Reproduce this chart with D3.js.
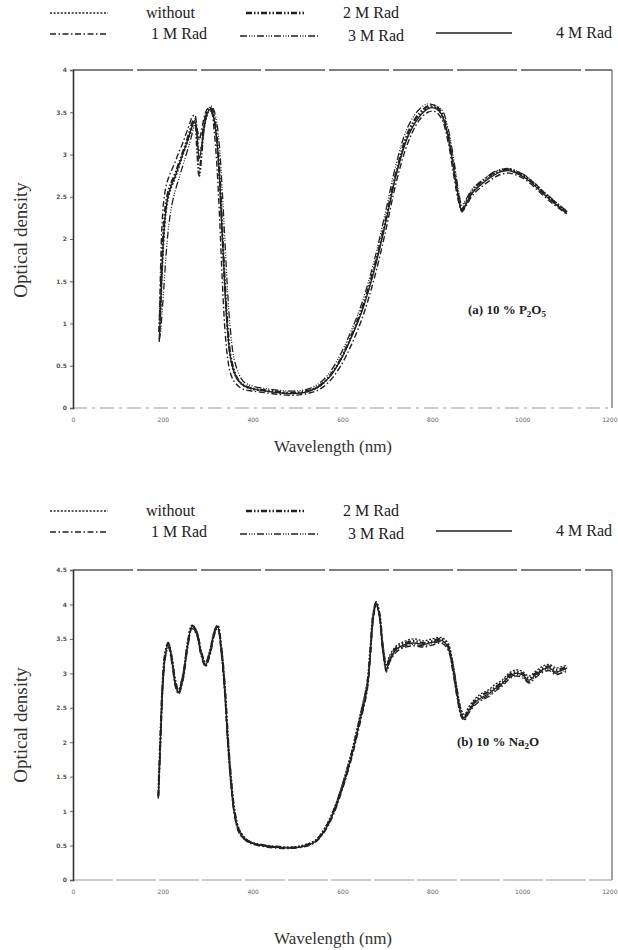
<!DOCTYPE html>
<html><head><meta charset="utf-8">
<script src="https://cdn.jsdelivr.net/npm/d3@7"></script>
<style>html,body{margin:0;padding:0;background:#fff;}svg{display:block;}</style>
</head><body>
<svg id="chart" width="618" height="950"></svg>
<script>
// ---------- data ----------
const seriesNames = ["without", "1 M Rad", "2 M Rad", "3 M Rad", "4 M Rad"];

const xTicks = [0, 200, 400, 600, 800, 1000, 1200];
const yTicksA = [0, 0.5, 1, 1.5, 2, 2.5, 3, 3.5, 4];
const yTicksB = [0, 0.5, 1, 1.5, 2, 2.5, 3, 3.5, 4, 4.5];

// Panel (a) 10 % P2O5
const wavelengthA = [192,195,198,202,207,213,220,228,236,244,
  252,260,266,271,276,281,286,292,298,304,
  309,314,320,326,332,338,344,350,358,368,
  380,400,430,460,490,520,545,570,595,620,
  645,670,695,720,745,770,790,805,820,835,
  848,858,866,875,890,910,930,950,970,990,
  1010,1030,1050,1070,1090,1100];
const a_without = [0.82,1.1,1.5,1.95,2.3,2.5,2.62,2.72,2.85,2.98,
  3.1,3.22,3.32,3.38,3.25,3.05,3.1,3.3,3.45,3.52,
  3.5,3.4,3.15,2.7,2.05,1.4,0.9,0.6,0.42,0.32,
  0.26,0.22,0.2,0.18,0.17,0.19,0.24,0.36,0.56,0.84,
  1.18,1.62,2.18,2.78,3.22,3.45,3.55,3.56,3.47,3.2,
  2.8,2.5,2.33,2.42,2.56,2.66,2.74,2.8,2.82,2.78,
  2.72,2.63,2.53,2.44,2.35,2.31];
const a_1M = [0.9,1.65,2.15,2.45,2.62,2.73,2.82,2.92,3.03,3.13,
  3.25,3.37,3.45,3.47,3.32,3.18,3.28,3.44,3.53,3.56,
  3.5,3.3,2.9,2.3,1.55,0.95,0.6,0.42,0.32,0.26,
  0.22,0.2,0.18,0.16,0.15,0.17,0.21,0.31,0.49,0.75,
  1.08,1.52,2.07,2.68,3.13,3.4,3.5,3.51,3.43,3.15,
  2.74,2.45,2.33,2.39,2.52,2.62,2.7,2.76,2.78,2.75,
  2.69,2.6,2.5,2.41,2.33,2.29];
const a_2M = [0.9,1.3,1.75,2.15,2.42,2.58,2.68,2.78,2.9,3.02,
  3.14,3.28,3.38,3.42,3.1,2.75,3.0,3.35,3.5,3.55,
  3.54,3.45,3.22,2.8,2.15,1.5,0.98,0.65,0.45,0.33,
  0.27,0.23,0.21,0.19,0.18,0.2,0.25,0.37,0.57,0.86,
  1.2,1.65,2.2,2.8,3.25,3.48,3.57,3.58,3.5,3.24,
  2.85,2.52,2.35,2.44,2.58,2.68,2.76,2.81,2.83,2.79,
  2.73,2.64,2.54,2.45,2.36,2.32];
const a_3M = [0.8,0.9,1.1,1.4,1.8,2.15,2.4,2.58,2.72,2.86,
  3.0,3.14,3.26,3.34,3.3,3.18,3.22,3.38,3.5,3.56,
  3.57,3.52,3.38,3.1,2.6,2.0,1.4,0.95,0.6,0.42,
  0.31,0.26,0.23,0.21,0.2,0.22,0.28,0.41,0.63,0.92,
  1.27,1.73,2.3,2.9,3.32,3.53,3.6,3.58,3.54,3.31,
  2.93,2.58,2.4,2.47,2.6,2.69,2.77,2.82,2.83,2.8,
  2.74,2.65,2.55,2.46,2.37,2.33];
const a_4M = [0.78,1.2,1.65,2.05,2.36,2.54,2.65,2.75,2.88,3.0,
  3.12,3.25,3.35,3.4,3.22,2.95,3.08,3.32,3.47,3.53,
  3.52,3.42,3.18,2.75,2.1,1.45,0.94,0.62,0.44,0.33,
  0.27,0.23,0.2,0.18,0.17,0.19,0.25,0.36,0.56,0.84,
  1.17,1.62,2.17,2.77,3.2,3.44,3.54,3.55,3.48,3.22,
  2.82,2.5,2.32,2.41,2.55,2.65,2.73,2.79,2.81,2.77,
  2.71,2.62,2.52,2.43,2.34,2.3];

// Panel (b) 10 % Na2O
const wavelengthB = [190,195,200,205,212,220,228,235,245,255,
  265,275,285,295,305,315,322,330,338,345,
  352,360,370,385,400,430,460,490,520,540,
  560,580,600,620,640,655,662,668,675,682,
  690,698,705,720,740,760,780,800,820,835,
  845,855,865,872,880,895,910,925,940,955,
  970,985,1000,1015,1030,1045,1060,1075,1090,1100];
const b_without = [1.25,2.2,2.95,3.3,3.45,3.25,2.9,2.76,3.0,3.45,
  3.7,3.62,3.34,3.16,3.34,3.62,3.7,3.42,2.85,2.1,
  1.5,1.02,0.74,0.6,0.54,0.5,0.48,0.48,0.52,0.58,
  0.75,1.02,1.4,1.86,2.42,2.88,3.38,3.86,4.04,3.9,
  3.42,3.12,3.26,3.4,3.47,3.5,3.47,3.5,3.52,3.44,
  3.18,2.78,2.46,2.4,2.5,2.63,2.71,2.76,2.84,2.9,
  3.0,3.05,3.03,2.96,3.03,3.1,3.13,3.08,3.1,3.12];
const b_1M = [1.2,2.0,2.8,3.2,3.38,3.15,2.8,2.7,2.9,3.35,
  3.65,3.56,3.26,3.1,3.26,3.56,3.66,3.3,2.68,1.92,
  1.35,0.92,0.68,0.57,0.52,0.48,0.46,0.46,0.49,0.55,
  0.7,0.95,1.32,1.76,2.3,2.75,3.24,3.75,4.0,3.82,
  3.3,3.02,3.16,3.31,3.38,3.4,3.38,3.41,3.44,3.34,
  3.05,2.65,2.36,2.32,2.41,2.54,2.61,2.66,2.74,2.81,
  2.91,2.96,2.94,2.86,2.94,3.01,3.04,2.98,3.01,3.03];
const b_2M = [1.22,2.15,2.9,3.28,3.44,3.22,2.88,2.74,2.97,3.42,
  3.69,3.61,3.32,3.14,3.32,3.61,3.69,3.38,2.8,2.05,
  1.45,0.98,0.72,0.59,0.54,0.5,0.48,0.47,0.51,0.57,
  0.73,1.0,1.37,1.83,2.38,2.84,3.34,3.83,4.03,3.87,
  3.38,3.08,3.22,3.37,3.44,3.47,3.44,3.47,3.5,3.4,
  3.14,2.74,2.43,2.37,2.47,2.6,2.68,2.73,2.8,2.87,
  2.97,3.02,3.0,2.93,3.0,3.07,3.1,3.05,3.07,3.1];
const b_3M = [1.18,2.05,2.82,3.22,3.4,3.18,2.83,2.71,2.92,3.38,
  3.66,3.58,3.28,3.11,3.28,3.58,3.67,3.32,2.72,1.96,
  1.38,0.94,0.69,0.57,0.53,0.49,0.47,0.47,0.5,0.56,
  0.71,0.97,1.34,1.78,2.33,2.78,3.27,3.78,4.01,3.84,
  3.33,3.04,3.18,3.33,3.4,3.42,3.4,3.43,3.46,3.36,
  3.08,2.68,2.38,2.33,2.43,2.56,2.63,2.68,2.76,2.83,
  2.93,2.98,2.96,2.88,2.96,3.03,3.06,3.0,3.03,3.06];
const b_4M = [1.2,2.1,2.85,3.25,3.42,3.2,2.85,2.72,2.95,3.4,
  3.68,3.6,3.3,3.12,3.3,3.6,3.68,3.35,2.75,2.0,
  1.4,0.95,0.7,0.58,0.53,0.49,0.47,0.47,0.5,0.56,
  0.72,0.98,1.35,1.8,2.35,2.8,3.3,3.8,4.02,3.85,
  3.35,3.05,3.2,3.35,3.42,3.44,3.42,3.45,3.48,3.38,
  3.1,2.7,2.4,2.35,2.45,2.58,2.65,2.7,2.78,2.85,
  2.95,3.0,2.98,2.9,2.98,3.05,3.08,3.02,3.05,3.08];

// ---------- styles ----------
const styles = {
  "without": {dash: "2,1.6", width: 1.3},
  "1 M Rad": {dash: "6,2.5,1.5,2.5", width: 1.4},
  "2 M Rad": {dash: "6,2,1.5,2,1.5,2", width: 2.2},
  "3 M Rad": {dash: "7,2,1,1.5,1,1.5,1,2", width: 1.3},
  "4 M Rad": {dash: null, width: 1.3}
};

const svg = d3.select("#chart");
const serif = "'Liberation Serif','Times New Roman',serif";
const ink = "#222";

function legend(y0) {
  const g = svg.append("g").attr("transform", `translate(0,${y0})`);
  const items = [
    {name: "without", x1: 50, x2: 108, y: 0, tx: 146},
    {name: "1 M Rad", x1: 50, x2: 108, y: 21, tx: 151},
    {name: "2 M Rad", x1: 246, x2: 304, y: 0, tx: 343},
    {name: "3 M Rad", x1: 240, x2: 318, y: 23, tx: 348},
    {name: "4 M Rad", x1: 436, x2: 512, y: 20, tx: 556}
  ];
  items.forEach(it => {
    const st = styles[it.name];
    g.append("line").attr("x1", it.x1).attr("x2", it.x2).attr("y1", it.y).attr("y2", it.y)
      .attr("stroke", ink).attr("stroke-width", st.width + 0.3)
      .attr("stroke-dasharray", st.dash);
    g.append("text").attr("x", it.tx).attr("y", it.y + 5)
      .attr("font-family", serif).attr("font-size", 16).attr("fill", ink)
      .text(it.name);
  });
}

function panel(cfg) {
  const x = d3.scaleLinear().domain([0, 1200]).range([73, 612]);
  const y = d3.scaleLinear().domain([0, cfg.ymax]).range([cfg.bottom, cfg.top]);
  const g = svg.append("g");

  // frame
  g.append("line").attr("x1", x(0)).attr("x2", x(1200)).attr("y1", y(cfg.ymax)).attr("y2", y(cfg.ymax))
    .attr("stroke", "#555").attr("stroke-width", 1.6).attr("stroke-dasharray", "60,4");
  g.append("line").attr("x1", x(1200)).attr("x2", x(1200)).attr("y1", y(cfg.ymax)).attr("y2", y(0))
    .attr("stroke", "#666").attr("stroke-width", 1.2);
  g.append("line").attr("x1", x(0)).attr("x2", x(1200)).attr("y1", y(0)).attr("y2", y(0))
    .attr("stroke", "#9a9a9a").attr("stroke-width", 1.1).attr("stroke-dasharray", cfg.bottomDash);

  // y axis
  const ya = g.append("g").attr("transform", `translate(${x(0)},0)`)
    .call(d3.axisLeft(y).tickValues(cfg.yTicks).tickSize(3).tickFormat(d => String(d)));
  ya.select(".domain").attr("stroke", "#333").attr("stroke-width", 1.6);
  ya.selectAll(".tick line").attr("stroke", "#666");
  ya.selectAll("text").attr("font-family", "'DejaVu Sans',sans-serif").attr("font-size", 6)
    .attr("fill", "#555").attr("font-weight", "bold");

  // x axis labels
  const xa = g.append("g").attr("transform", `translate(0,${y(0)})`)
    .call(d3.axisBottom(x).tickValues(xTicks).tickSize(0).tickPadding(cfg.xPad).tickFormat(d => String(d)));
  xa.select(".domain").remove();
  xa.selectAll("text").attr("font-family", "'DejaVu Sans',sans-serif").attr("font-size", 6)
    .attr("fill", "#666").attr("text-anchor", d => d === 1200 ? "end" : "middle")
    .attr("dx", d => d === 1200 ? 5 : 0);

  // curves
  const line = d3.line().x(d => x(d[0])).y(d => y(d[1])).curve(d3.curveCatmullRom.alpha(0.5));
  cfg.series.forEach((vals, i) => {
    const st = styles[seriesNames[i]];
    const pts = cfg.wl.map((w, j) => [w, vals[j]]);
    g.append("path").attr("d", line(pts)).attr("fill", "none")
      .attr("stroke", ink).attr("stroke-width", st.width)
      .attr("stroke-dasharray", st.dash);
  });

  // axis titles
  g.append("text").attr("transform", `translate(${cfg.ylx},${cfg.yly}) rotate(-90)`)
    .attr("text-anchor", "middle").attr("font-family", serif).attr("font-size", 19)
    .attr("fill", "#333").text("Optical density");
  g.append("text").attr("x", 333).attr("y", cfg.xly).attr("text-anchor", "middle")
    .attr("font-family", serif).attr("font-size", 17).attr("fill", "#333").text("Wavelength (nm)");

  // panel label
  const t = g.append("text").attr("x", cfg.lx).attr("y", cfg.ly).attr("font-family", serif)
    .attr("font-size", 13).attr("font-weight", "bold").attr("fill", "#222");
  cfg.label.forEach(p => {
    const ts = t.append("tspan").text(p.t);
    if (p.sub) ts.attr("font-size", 9).attr("dy", 3);
    else if (p.after) ts.attr("dy", -3);
  });
}

legend(13);
panel({ymax: 4, top: 70, bottom: 408, yTicks: yTicksA, xPad: 10, bottomDash: "14,5,3,5",
  wl: wavelengthA, series: [a_without, a_1M, a_2M, a_3M, a_4M],
  ylx: 27, yly: 240, xly: 452, lx: 468, ly: 314,
  label: [{t: "(a) 10 % P"}, {t: "2", sub: true}, {t: "O", after: true}, {t: "5", sub: true}]});

legend(511);
panel({ymax: 4.5, top: 570, bottom: 880, yTicks: yTicksB, xPad: 10, bottomDash: "40,3",
  wl: wavelengthB, series: [b_without, b_1M, b_2M, b_3M, b_4M],
  ylx: 27, yly: 725, xly: 944, lx: 457, ly: 746,
  label: [{t: "(b) 10 % Na"}, {t: "2", sub: true}, {t: "O", after: true}]});
</script>
</body></html>
